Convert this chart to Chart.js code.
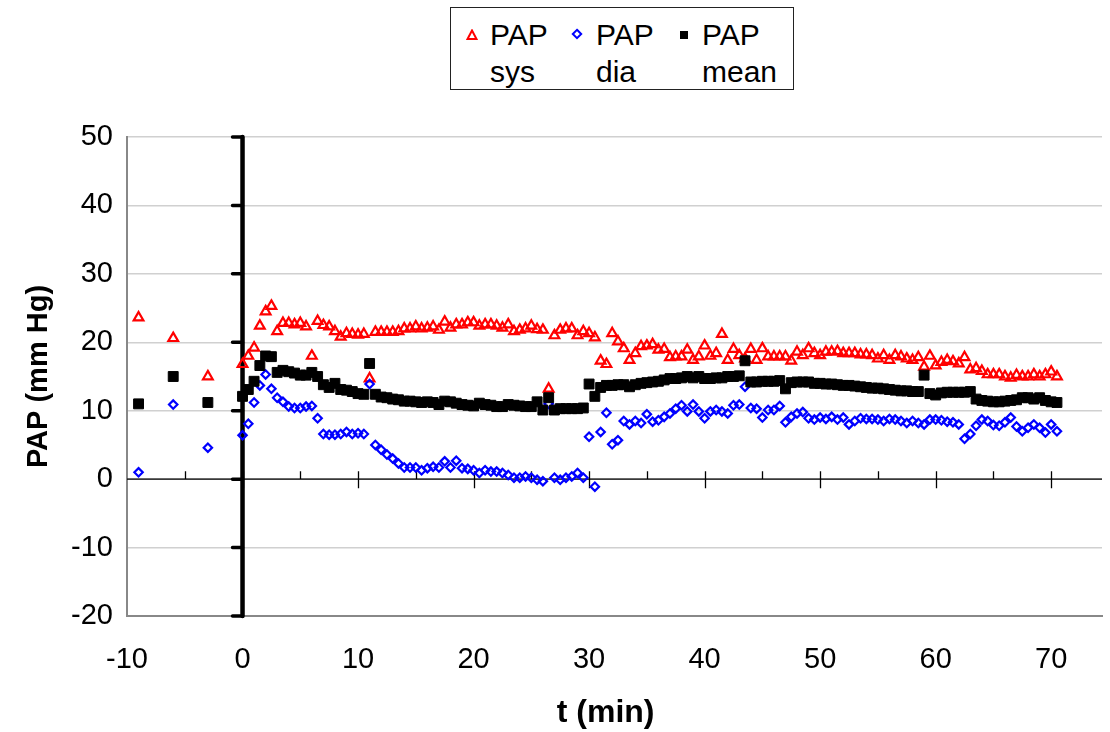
<!DOCTYPE html>
<html>
<head>
<meta charset="utf-8">
<script src="https://cdn.jsdelivr.net/npm/chart.js@4/dist/chart.umd.min.js"></script>
<style>
  body { margin: 0; background: #fff; }
  #wrap { position: relative; width: 1110px; height: 732px; }
  #legend {
    position: absolute; left: 450px; top: 7px; width: 342px; height: 81px;
    border: 1.2px solid #222; background: #fff;
    font-family: 'Liberation Sans', Arial, sans-serif; font-size: 30px; color: #000;
  }
  #legend .txt { position: absolute; top: 8px; line-height: 37px; white-space: nowrap; }
  #legend svg { position: absolute; }
</style>
</head>
<body>
<div id="wrap">
  <canvas id="papChart" width="1110" height="732"></canvas>
  <div id="legend">
    <svg style="left:15px;top:21px" width="12" height="12"><polygon points="6,1.5 10.5,10 1.5,10" fill="none" stroke="#ff0000" stroke-width="2"/></svg>
    <div class="txt" style="left:39px">PAP<br>sys</div>
    <svg style="left:120px;top:20px" width="12" height="12"><polygon points="6,1.8 10.2,6 6,10.2 1.8,6" fill="none" stroke="#0000ff" stroke-width="2"/></svg>
    <div class="txt" style="left:145px">PAP<br>dia</div>
    <svg style="left:227px;top:21px" width="12" height="12"><rect x="2" y="2" width="8" height="8" fill="#000"/></svg>
    <div class="txt" style="left:251px">PAP<br>mean</div>
  </div>
</div>
<script>
// time (min); baseline points before 0, then every half minute
const times = [-9, -6, -3,
  0, 0.5, 1, 1.5, 2, 2.5, 3, 3.5, 4, 4.5, 5, 5.5, 6, 6.5, 7, 7.5, 8, 8.5, 9, 9.5,
  10, 10.5, 11, 11.5, 12, 12.5, 13, 13.5, 14, 14.5, 15, 15.5, 16, 16.5, 17, 17.5, 18, 18.5, 19, 19.5,
  20, 20.5, 21, 21.5, 22, 22.5, 23, 23.5, 24, 24.5, 25, 25.5, 26, 26.5, 27, 27.5, 28, 28.5, 29, 29.5,
  30, 30.5, 31, 31.5, 32, 32.5, 33, 33.5, 34, 34.5, 35, 35.5, 36, 36.5, 37, 37.5, 38, 38.5, 39, 39.5,
  40, 40.5, 41, 41.5, 42, 42.5, 43, 43.5, 44, 44.5, 45, 45.5, 46, 46.5, 47, 47.5, 48, 48.5, 49, 49.5,
  50, 50.5, 51, 51.5, 52, 52.5, 53, 53.5, 54, 54.5, 55, 55.5, 56, 56.5, 57, 57.5, 58, 58.5, 59, 59.5,
  60, 60.5, 61, 61.5, 62, 62.5, 63, 63.5, 64, 64.5, 65, 65.5, 66, 66.5, 67, 67.5, 68, 68.5, 69, 69.5,
  70, 70.5];

const papSys = [23.6, 20.6, 15.0,
  16.8, 18.0, 19.2, 22.4, 24.5, 25.3, 21.6, 22.8, 22.8, 22.6, 22.8, 22.3, 18.0, 23.1, 22.5, 22.3, 21.6, 20.8, 21.3, 21.2,
  21.1, 21.2, 14.7, 21.5, 21.5, 21.5, 21.5, 21.6, 22.0, 22.0, 22.3, 22.0, 22.1, 22.3, 21.8, 23.0, 22.1, 22.6, 22.6, 22.9,
  22.9, 22.4, 22.6, 22.6, 22.4, 22.1, 22.6, 21.6, 21.8, 22.0, 22.4, 21.9, 21.8, 13.2, 21.0, 21.8, 22.0, 22.0, 21.0, 21.6,
  21.3, 20.7, 17.3, 16.8, 21.3, 20.1, 19.1, 17.4, 18.4, 19.4, 19.5, 19.7, 18.9, 19.0, 17.8, 17.9, 17.9, 18.9, 17.4, 17.9,
  19.5, 18.0, 18.4, 21.2, 17.4, 19.0, 18.1, 17.6, 19.0, 17.4, 19.1, 17.9, 17.9, 17.9, 17.9, 17.3, 18.6, 18.1, 19.1, 18.4,
  18.1, 18.6, 18.6, 18.7, 18.4, 18.4, 18.4, 18.2, 18.2, 18.1, 17.6, 18.1, 17.4, 18.1, 17.9, 17.6, 17.4, 17.8, 16.4, 18.0,
  16.6, 17.1, 17.4, 17.2, 16.9, 17.8, 16.0, 16.2, 15.8, 15.3, 15.3, 15.3, 15.0, 14.8, 15.2, 15.0, 15.0, 15.3, 15.0, 15.3,
  15.7, 15.0];

const papDia = [1.0, 10.9, 4.6,
  6.4, 8.1, 11.2, 13.7, 15.3, 13.2, 11.9, 11.3, 10.6, 10.4, 10.4, 10.6, 10.7, 8.9, 6.6, 6.5, 6.5, 6.6, 6.9, 6.6,
  6.7, 6.6, 13.9, 5.0, 4.3, 3.6, 3.0, 2.3, 1.7, 1.7, 1.7, 1.3, 1.6, 1.8, 1.7, 2.6, 1.7, 2.7, 1.6, 1.5,
  1.3, 0.9, 1.3, 1.1, 1.1, 0.9, 0.6, 0.2, 0.2, 0.4, 0.2, -0.1, -0.3, 11.0, 0.2, -0.1, 0.2, 0.4, 0.9, 0.2,
  6.2, -1.1, 6.9, 9.7, 5.1, 5.7, 8.5, 8.0, 8.5, 8.2, 9.5, 8.4, 8.6, 9.1, 9.6, 10.3, 10.8, 9.9, 10.9, 9.9,
  8.9, 9.9, 10.1, 9.9, 9.6, 10.8, 10.9, 13.5, 10.4, 10.3, 9.0, 10.1, 10.1, 10.7, 8.3, 9.1, 9.6, 9.8, 8.9, 8.7,
  9.0, 8.8, 9.1, 8.7, 9.0, 8.0, 8.5, 8.9, 8.8, 8.8, 8.7, 8.5, 8.8, 8.7, 8.5, 8.2, 8.5, 8.2, 8.0, 8.7,
  8.7, 8.6, 8.4, 8.3, 8.0, 5.9, 6.6, 7.8, 8.7, 8.5, 7.9, 7.8, 8.3, 9.0, 7.7, 7.0, 7.5, 8.0, 7.5, 6.8,
  8.0, 7.0];

const papMean = [11.0, 15.0, 11.2,
  12.1, 13.1, 14.3, 16.6, 18.0, 17.9, 15.6, 15.9, 15.7, 15.5, 15.2, 15.2, 15.6, 15.0, 13.8, 13.4, 14.0, 13.1, 13.0, 12.8,
  12.5, 12.4, 16.9, 12.4, 12.0, 11.9, 11.7, 11.6, 11.4, 11.4, 11.3, 11.2, 11.3, 11.2, 10.9, 11.4, 11.3, 11.1, 10.9, 10.8,
  10.7, 11.1, 10.9, 10.8, 10.6, 10.6, 10.9, 10.8, 10.7, 10.6, 10.6, 11.3, 10.1, 11.9, 10.1, 10.3, 10.3, 10.3, 10.3, 10.4,
  13.9, 12.1, 13.4, 13.7, 13.7, 13.8, 13.8, 13.5, 13.8, 14.0, 14.1, 14.2, 14.3, 14.5, 14.7, 14.7, 14.8, 15.0, 14.8, 15.0,
  14.7, 14.7, 14.8, 14.8, 15.0, 15.0, 15.1, 17.3, 14.2, 14.2, 14.3, 14.3, 14.3, 14.4, 13.2, 14.1, 14.2, 14.2, 14.2, 14.0,
  14.0, 13.9, 13.9, 13.8, 13.7, 13.7, 13.6, 13.5, 13.4, 13.3, 13.3, 13.2, 13.1, 13.0, 12.9, 12.9, 12.8, 12.8, 15.2, 12.5,
  12.3, 12.6, 12.7, 12.7, 12.7, 12.7, 12.8, 11.7, 11.5, 11.4, 11.3, 11.3, 11.4, 11.5, 11.6, 11.9, 11.9, 11.7, 11.9, 11.5,
  11.3, 11.2];

const xTicks = [-10, 0, 10, 20, 30, 40, 50, 60, 70];
const xMinorTicks = [-5, 5, 15, 25, 35, 45, 55, 65];
const yTicks = [-20, -10, 0, 10, 20, 30, 40, 50];

const tickFont = { family: "'Liberation Sans', Arial, sans-serif", size: 29 };
const titleFont = { family: "'Liberation Sans', Arial, sans-serif", size: 29, weight: 'bold' };
const xTitleFont = { family: "'Liberation Sans', Arial, sans-serif", size: 32, weight: 'bold' };

function toPoints(xs, ys) {
    return xs.map((x, i) => ({ x: x, y: ys[i] }));
}

// axes crossing at t = 0 and PAP = 0, drawn the way the spreadsheet did
const zeroAxes = {
    id: 'zeroAxes',
    beforeDatasetsDraw(chart) {
        const { ctx, chartArea, scales } = chart;
        const x = scales.x, y = scales.y;
        const y0 = y.getPixelForValue(0);
        const x0 = x.getPixelForValue(0);
        ctx.save();
        ctx.strokeStyle = '#000';
        ctx.lineWidth = 1.3;
        ctx.beginPath();
        ctx.moveTo(chartArea.left, y0);
        ctx.lineTo(chartArea.right, y0);
        xTicks.forEach(v => {
            if (v === -10) return;
            const px = Math.round(x.getPixelForValue(v)) + 0.5;
            ctx.moveTo(px, y0 - 8);
            ctx.lineTo(px, y0 + 9);
        });
        xMinorTicks.forEach(v => {
            const px = Math.round(x.getPixelForValue(v)) + 0.5;
            ctx.moveTo(px, y0 - 8);
            ctx.lineTo(px, y0);
        });
        ctx.stroke();

        ctx.lineCap = 'round';
        ctx.lineWidth = 4.5;
        ctx.beginPath();
        ctx.moveTo(x0, chartArea.top);
        ctx.lineTo(x0, chartArea.bottom);
        ctx.stroke();
        ctx.lineWidth = 3.5;
        ctx.beginPath();
        yTicks.forEach(v => {
            const py = y.getPixelForValue(v);
            ctx.moveTo(x0 - 10, py);
            ctx.lineTo(x0, py);
        });
        ctx.stroke();
        ctx.restore();
    }
};

const ctx = document.getElementById('papChart').getContext('2d');

new Chart(ctx, {
    type: 'scatter',
    data: {
        datasets: [{
            label: 'PAP sys',
            data: toPoints(times, papSys),
            pointStyle: 'triangle',
            pointRadius: 5.6,
            pointBorderWidth: 2.2,
            pointBorderColor: '#ff0000',
            pointBackgroundColor: 'rgba(0,0,0,0)',
            order: 3
        }, {
            label: 'PAP dia',
            data: toPoints(times, papDia),
            pointStyle: 'rectRot',
            pointRadius: 4.2,
            pointBorderWidth: 2.2,
            pointBorderColor: '#0000ff',
            pointBackgroundColor: 'rgba(0,0,0,0)',
            order: 2
        }, {
            label: 'PAP mean',
            data: toPoints(times, papMean),
            pointStyle: 'rect',
            pointRadius: 7,
            pointBorderWidth: 1,
            pointBorderColor: '#000',
            pointBackgroundColor: '#000',
            order: 1
        }]
    },
    options: {
        responsive: false,
        animation: false,
        layout: { padding: { top: 137, right: 0, bottom: 0, left: 0 } },
        plugins: {
            legend: { display: false },
            tooltip: { enabled: false }
        },
        scales: {
            x: {
                type: 'linear',
                min: -10,
                max: 74.4,
                afterBuildTicks: s => { s.ticks = xTicks.map(v => ({ value: v })); },
                afterFit: s => { s.height = 116; },
                grid: { display: false, drawTicks: false },
                border: { display: true, color: '#888', width: 2 },
                ticks: { font: tickFont, color: '#000', padding: 27, maxRotation: 0, autoSkip: false },
                title: { display: true, text: 't (min)\u00a0\u00a0', font: xTitleFont, color: '#000', padding: { top: 0, bottom: 0 } }
            },
            y: {
                min: -20,
                max: 50,
                afterBuildTicks: s => { s.ticks = yTicks.map(v => ({ value: v })); },
                afterFit: s => { s.width = 127; },
                grid: { color: '#d0d0d0', lineWidth: 1.5, drawTicks: false },
                border: { display: true, color: '#888', width: 2 },
                ticks: { font: tickFont, color: '#000', padding: 14 },
                title: { display: true, text: 'PAP (mm Hg)', font: titleFont, color: '#000', padding: { top: 22, bottom: 0 } }
            }
        }
    },
    plugins: [zeroAxes]
});
</script>
</body>
</html>
